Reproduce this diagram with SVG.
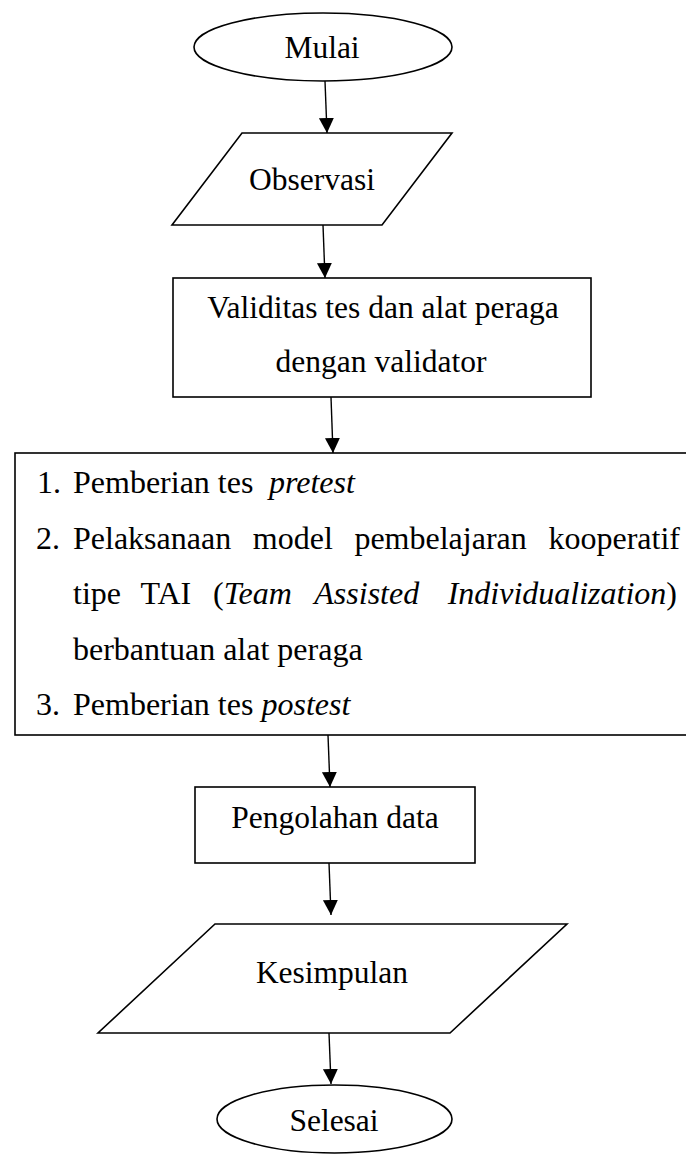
<svg xmlns="http://www.w3.org/2000/svg" width="686" height="1155" viewBox="0 0 686 1155">
<style>
.s{fill:#fff;stroke:#000;stroke-width:1.6}
.t{font-family:"Liberation Serif","Times New Roman",serif;font-size:31.5px;fill:#000}
.l{font-family:"Liberation Serif","Times New Roman",serif;font-size:32px;fill:#000}
.i{font-style:italic}
.c{stroke:#000;stroke-width:1.4;fill:none}
</style>
<defs>
<marker id="ah" markerUnits="userSpaceOnUse" markerWidth="16" markerHeight="16" refX="15" refY="7.5" orient="auto">
<path d="M0,0 L15,7.5 L0,15 z" fill="#000"/>
</marker>
</defs>
<rect width="686" height="1155" fill="#fff"/>
<g id="n-mulai">
<ellipse class="s" cx="323" cy="47" rx="129" ry="34"/>
<text class="t" x="322" y="58" text-anchor="middle">Mulai</text>
</g>
<g id="n-observasi">
<polygon class="s" points="242,133 452,133 382,225 172,225"/>
<text class="t" x="312" y="190" text-anchor="middle">Observasi</text>
</g>
<g id="n-validitas">
<rect class="s" x="173" y="278" width="418" height="119"/>
<text class="t" x="383" y="318" text-anchor="middle">Validitas tes dan alat peraga</text>
<text class="t" x="381" y="372" text-anchor="middle">dengan validator</text>
</g>
<g id="n-pelaksanaan">
<rect class="s" x="15" y="453" width="690" height="282"/>
<text class="l" y="493"><tspan x="37">1.</tspan><tspan x="73">Pemberian tes</tspan><tspan x="269" class="i">pretest</tspan></text>
<text class="l" y="548.5"><tspan x="36">2.</tspan><tspan x="73">Pelaksanaan</tspan><tspan x="252.8">model</tspan><tspan x="354.4">pembelajaran</tspan></text>
<text class="l" x="680" y="548.5" text-anchor="end">kooperatif</text>
<text class="l" y="604"><tspan x="73">tipe</tspan><tspan x="140.4">TAI</tspan><tspan x="213.1">(<tspan class="i">Team</tspan></tspan><tspan x="314.3" class="i">Assisted</tspan></text>
<text class="l" x="677" y="604" text-anchor="end"><tspan class="i">Individualization</tspan>)</text>
<text class="l" x="73" y="659.5">berbantuan alat peraga</text>
<text class="l" y="715"><tspan x="36">3.</tspan><tspan x="73">Pemberian tes</tspan><tspan x="261.5" class="i">postest</tspan></text>
</g>
<g id="n-pengolahan">
<rect class="s" x="195" y="787" width="280" height="76"/>
<text class="t" x="335" y="828" text-anchor="middle">Pengolahan data</text>
</g>
<g id="n-kesimpulan">
<polygon class="s" points="215,924 567,924 450,1033 98,1033"/>
<text class="t" x="332" y="983" text-anchor="middle">Kesimpulan</text>
</g>
<g id="n-selesai">
<ellipse class="s" cx="334.5" cy="1119" rx="117.5" ry="34"/>
<text class="t" x="334" y="1131" text-anchor="middle">Selesai</text>
</g>
<g id="connectors">
<line class="c" x1="325" y1="81" x2="327" y2="133" marker-end="url(#ah)"/>
<line class="c" x1="323" y1="225" x2="325" y2="278" marker-end="url(#ah)"/>
<line class="c" x1="331" y1="397" x2="333" y2="453" marker-end="url(#ah)"/>
<line class="c" x1="328" y1="735" x2="330" y2="787" marker-end="url(#ah)"/>
<line class="c" x1="329" y1="863" x2="331" y2="915" marker-end="url(#ah)"/>
<line class="c" x1="329" y1="1033" x2="331" y2="1084" marker-end="url(#ah)"/>
</g>
</svg>
